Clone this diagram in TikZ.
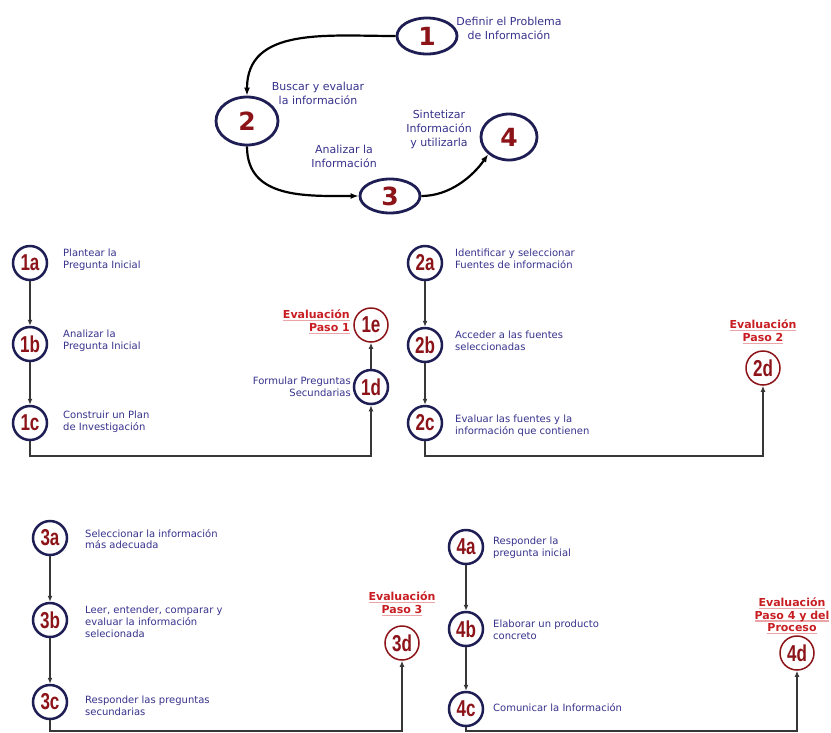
\documentclass[tikz,border=0pt]{standalone}
\usepackage{fontspec}
\setmainfont{DejaVu Sans}
\newfontfamily\numfont[FakeStretch=0.74]{Liberation Sans}
\usetikzlibrary{shapes.geometric,arrows.meta}
\definecolor{navy}{RGB}{30,30,85}
\definecolor{numred}{RGB}{140,20,25}
\definecolor{evred}{RGB}{200,30,35}
\definecolor{txtblue}{RGB}{55,50,140}
\definecolor{linegray}{RGB}{55,55,55}
\newcommand\myevul[1]{\setbox0\hbox{#1}\rlap{\color{evred!40}\rule[-2.4pt]{\wd0}{1.3pt}}\box0}
\tikzset{
  cyc/.style={ellipse, draw=navy, line width=2.8pt, fill=white, inner sep=0pt,
    font=\bfseries\fontsize{25}{25}\selectfont, text=numred},
  stp/.style={circle, draw=navy, line width=2.5pt, fill=white, minimum size=34pt, inner sep=0pt,
    font=\numfont\bfseries\fontsize{23}{23}\selectfont, text=numred},
  evc/.style={circle, draw=numred, line width=1.5pt, fill=white, minimum size=34pt, inner sep=0pt,
    font=\numfont\bfseries\fontsize{23}{23}\selectfont, text=numred},
  ctxt/.style={font=\fontsize{11}{14}\selectfont, text=txtblue, align=center, inner sep=0pt},
  lbl/.style={font=\fontsize{10}{11.8}\selectfont, text=txtblue, align=left, anchor=west, inner sep=0pt},
  lblr/.style={font=\fontsize{10}{11.8}\selectfont, text=txtblue, align=right, anchor=east, inner sep=0pt},
  evl/.style={font=\bfseries\fontsize{11}{12.5}\selectfont, text=evred, align=center, inner sep=0pt},
  evlr/.style={font=\bfseries\fontsize{11}{13}\selectfont, text=evred, align=right, anchor=east, inner sep=0pt},
  carr/.style={-{Latex[length=8pt,width=6pt]}, line width=2.2pt, draw=black},
  arr/.style={-{Latex[length=6pt,width=5pt]}, line width=1.3pt, draw=linegray},
}
\begin{document}
\begin{tikzpicture}[x=1pt,y=1pt]
\useasboundingbox (0,0) rectangle (831,-732);
\fill[white] (0,0) rectangle (831,-732);
\clip (0,0) rectangle (831,-732);

% ---- cycle ----
\node[cyc, minimum width=60pt, minimum height=36pt] (e1) at (427,-36) {1};
\node[cyc, minimum width=62pt, minimum height=48pt] (e2) at (247,-121) {2};
\node[cyc, minimum width=60pt, minimum height=34pt] (e3) at (390,-196) {3};
\node[cyc, minimum width=56pt, minimum height=46pt] (e4) at (509,-137) {4};
\node[ctxt] (t1) at (509,-28) {Definir el Problema\\de Información};
\node[ctxt] (t2) at (318,-93) {Buscar y evaluar\\la información};
\node[ctxt] (t4) at (439,-129) {Sintetizar\\Información\\y utilizarla};
\node[ctxt] (t3) at (344,-156) {Analizar la\\Información};
\draw[carr] (e1.west) to[out=180,in=90,looseness=1.1] (e2.north);
\draw[carr] (e2.south) to[out=270,in=180,looseness=1.1] (e3.west);
\draw[carr] (e3.east) to[out=0,in=235,looseness=0.9] (e4.south west);

% ---- step 1 ----
\node[stp] (s1a) at (30,-263) {1a};
\node[stp] (s1b) at (30,-344) {1b};
\node[stp] (s1c) at (30,-423) {1c};
\node[stp] (s1d) at (371,-387) {1d};
\node[evc] (s1e) at (371,-325) {1e};
\node[lbl] (l1a) at (63,-260) {Plantear la\\Pregunta Inicial};
\node[lbl] (l1b) at (63,-341) {Analizar la\\Pregunta Inicial};
\node[lbl] (l1c) at (63,-422) {Construir un Plan\\de Investigación};
\node[lblr] (l1d) at (351,-387) {Formular Preguntas\\Secundarias};
\node[evlr] (l1e) at (350,-322) {\myevul{Evaluación}\\\myevul{Paso 1}};
\coordinate (j1) at (200,-456);
\draw[arr] (s1a) -- (s1b);
\draw[arr] (s1b) -- (s1c);
\draw[arr] (s1c) |- (j1) -| (s1d);
\draw[arr] (s1d) -- (s1e);

% ---- step 2 ----
\node[stp] (s2a) at (425,-263) {2a};
\node[stp] (s2b) at (425,-345) {2b};
\node[stp] (s2c) at (425,-423) {2c};
\node[evc] (s2d) at (763,-368) {2d};
\node[lbl] (l2a) at (455,-259) {Identificar y seleccionar\\Fuentes de información};
\node[lbl] (l2b) at (455,-341) {Acceder a las fuentes\\seleccionadas};
\node[lbl] (l2c) at (455,-426) {Evaluar las fuentes y la\\información que contienen};
\node[evl] (l2d) at (763,-332) {\myevul{Evaluación}\\\myevul{Paso 2}};
\coordinate (j2) at (600,-456);
\draw[arr] (s2a) -- (s2b);
\draw[arr] (s2b) -- (s2c);
\draw[arr] (s2c) |- (j2) -| (s2d);

% ---- step 3 ----
\node[stp] (s3a) at (50,-538) {3a};
\node[stp] (s3b) at (50,-620) {3b};
\node[stp] (s3c) at (50,-702) {3c};
\node[evc] (s3d) at (402,-643) {3d};
\node[lbl] (l3a) at (85,-539) {Seleccionar la información\\más adecuada};
\node[lbl] (l3b) at (85,-622) {Leer, entender, comparar y\\evaluar la información\\selecionada};
\node[lbl] (l3c) at (85,-706) {Responder las preguntas\\secundarias};
\node[evl] (l3d) at (402,-604) {\myevul{Evaluación}\\\myevul{Paso 3}};
\coordinate (j3) at (220,-731);
\draw[arr] (s3a) -- (s3b);
\draw[arr] (s3b) -- (s3c);
\draw[arr] (s3c) |- (j3) -| (s3d);

% ---- step 4 ----
\node[stp] (s4a) at (466,-547) {4a};
\node[stp] (s4b) at (466,-629) {4b};
\node[stp] (s4c) at (466,-709) {4c};
\node[evc] (s4d) at (797,-653) {4d};
\node[lbl] (l4a) at (493,-548) {Responder la\\pregunta inicial};
\node[lbl] (l4b) at (493,-630) {Elaborar un producto\\concreto};
\node[lbl] (l4c) at (493,-708) {Comunicar la Información};
\node[evl] (l4d) at (792,-616) {\myevul{Evaluación}\\\myevul{Paso 4 y del}\\\myevul{Proceso}};
\coordinate (j4) at (630,-731);
\draw[arr] (s4a) -- (s4b);
\draw[arr] (s4b) -- (s4c);
\draw[arr] (s4c) |- (j4) -| (s4d);
\end{tikzpicture}
\end{document}
